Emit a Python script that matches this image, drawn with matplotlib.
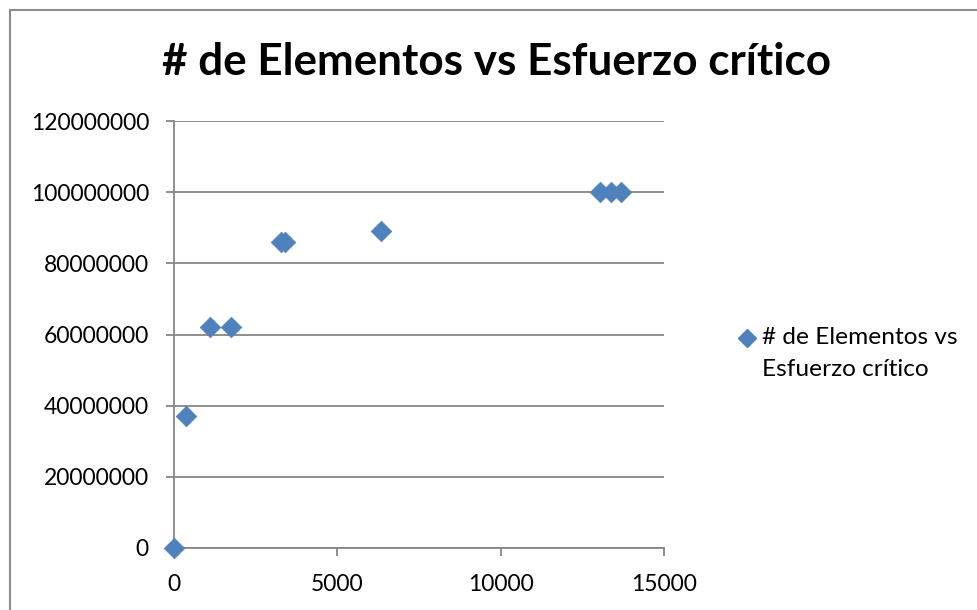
import matplotlib
matplotlib.use("Agg")
import matplotlib.pyplot as plt
from matplotlib.patches import Rectangle
from matplotlib.lines import Line2D

# Mesh size (number of elements) against critical stress
elementos = [0, 360, 1090, 1750, 3270, 3400, 6330, 13040, 13370, 13690]
esfuerzo = [0, 37000000, 62000000, 62000000, 86000000, 86000000, 89000000,
            100000000, 100000000, 100000000]

x_ticks = [0, 5000, 10000, 15000]
y_ticks = [0, 20000000, 40000000, 60000000, 80000000, 100000000, 120000000]

titulo = "# de Elementos vs Esfuerzo crítico"
serie = "# de Elementos vs\nEsfuerzo crítico"

FONT = "Lato"
GRID = "#868686"
BLUE = "#4F81BD"

W, H = 978, 610
fig = plt.figure(figsize=(W / 100, H / 100), dpi=100)
fig.patch.set_facecolor("white")

# chart area border
fig.add_artist(Rectangle((10 / W, -0.05), 1.2, (H - 10) / H + 0.05,
                         transform=fig.transFigure, fill=False,
                         edgecolor="#8c8c8c", linewidth=1.5))

ax = fig.add_axes([174 / W, (H - 548) / H, (664 - 174) / W, (548 - 121) / H])
ax.scatter(elementos, esfuerzo, marker="D", s=110, color=BLUE,
           edgecolors=BLUE, linewidths=0.5, zorder=3, clip_on=False)

ax.set_xlim(0, 15000)
ax.set_ylim(0, 120000000)
ax.set_xticks(x_ticks)
ax.set_yticks(y_ticks)
ax.set_xticklabels([str(v) for v in x_ticks], fontfamily=FONT, fontsize=16.5)
ax.set_yticklabels([str(v) for v in y_ticks], fontfamily=FONT, fontsize=16.5)

ax.yaxis.grid(True, color=GRID, linewidth=1.3)
ax.xaxis.grid(False)
ax.set_axisbelow(True)
for side in ("top", "right"):
    ax.spines[side].set_visible(False)
for side in ("left", "bottom"):
    ax.spines[side].set_color(GRID)
    ax.spines[side].set_linewidth(1.3)
ax.tick_params(axis="both", direction="out", length=6, width=1.3,
               color=GRID, labelcolor="black")
ax.tick_params(axis="x", pad=13)
ax.tick_params(axis="y", pad=12)

fig.text(497 / W, 1 - 62 / H, titulo, ha="center", va="center",
         fontfamily=FONT, fontweight="bold", fontsize=31.7)

# series key
fig.add_artist(Line2D([747 / W], [1 - 338 / H], marker="D", markersize=9,
                      color=BLUE, markeredgecolor=BLUE,
                      transform=fig.transFigure))
fig.text(762 / W, 1 - 338 / H, serie.split("\n")[0], ha="left", va="center",
         fontfamily=FONT, fontsize=17.6)
fig.text(762 / W, 1 - 370 / H, serie.split("\n")[1], ha="left", va="center",
         fontfamily=FONT, fontsize=17.6)

fig.savefig("out.png", dpi=100)
